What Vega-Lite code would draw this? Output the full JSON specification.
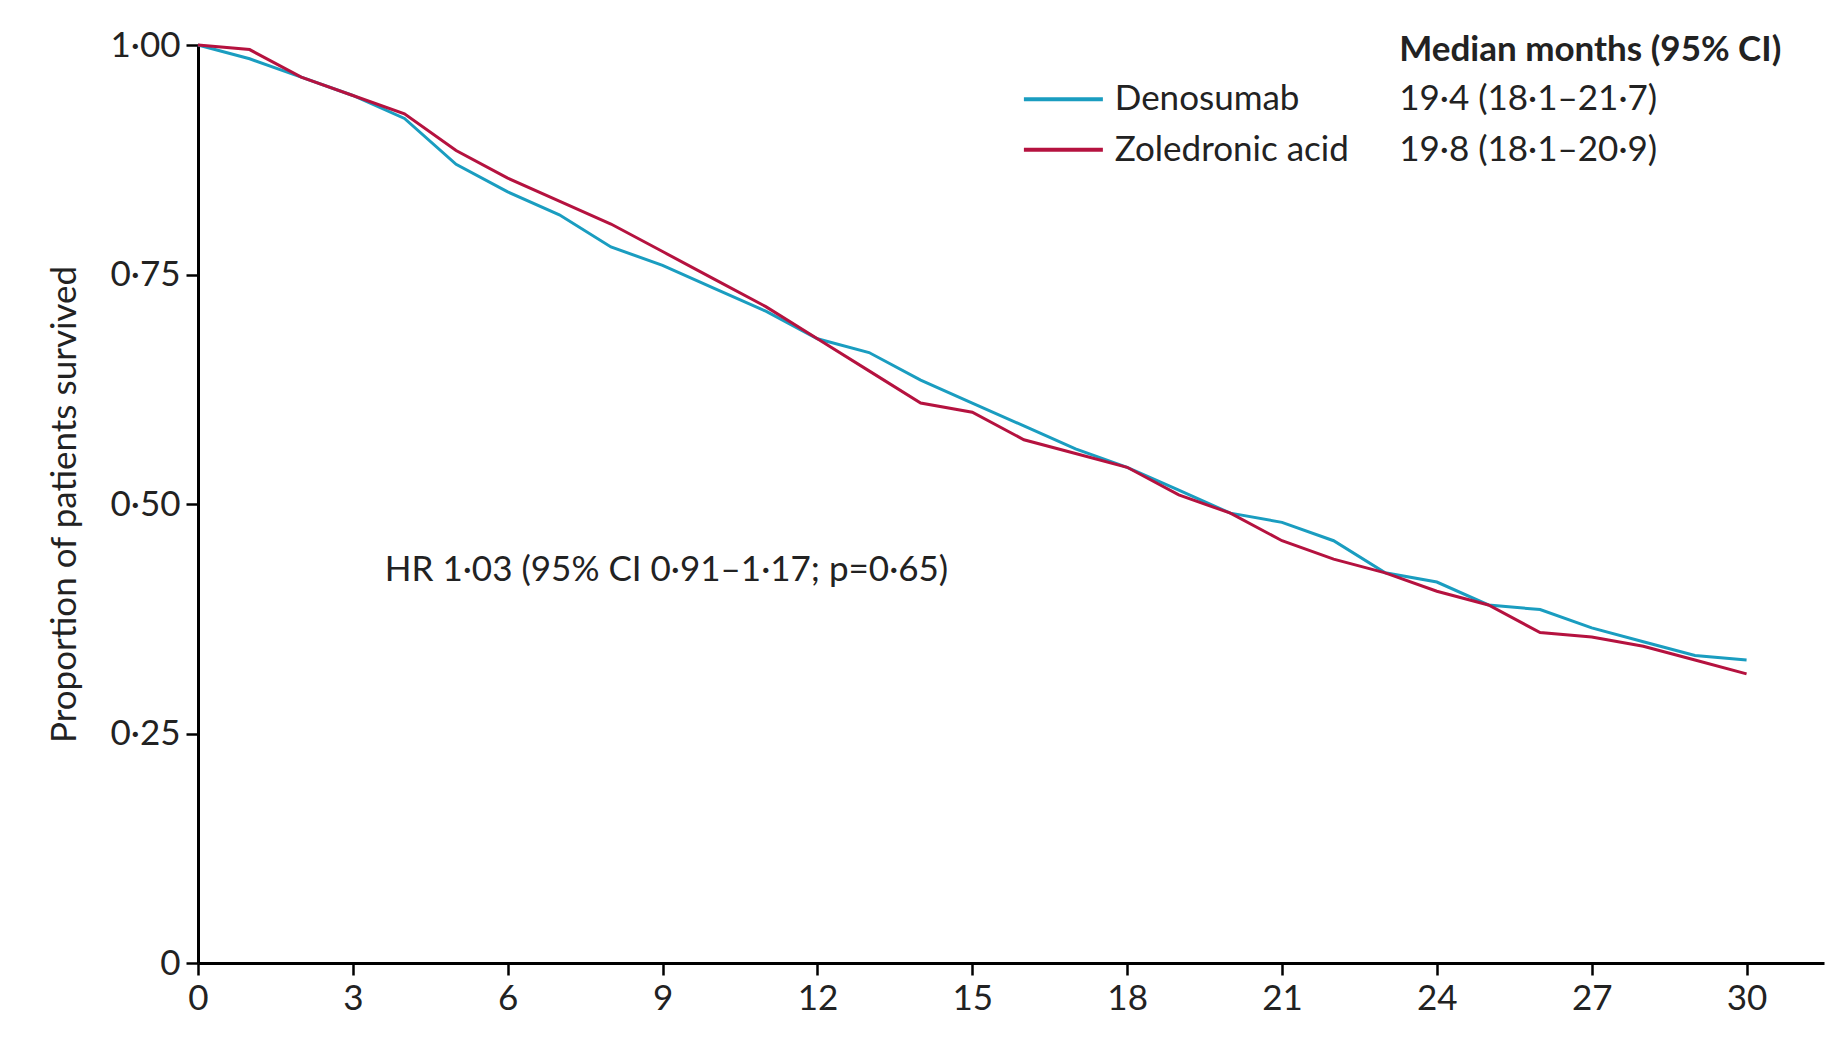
{
"$schema":"https://vega.github.io/schema/vega-lite/v6.json",
"width":1626,"height":918,
"padding":{"left":198,"top":45,"right":21,"bottom":94},
"autosize":{"type":"none"},
"background":"white",
"config":{"view":{"stroke":null},"font":"Lato"},
"datasets":{
"km":[
{"t":0,"s":1.0,"g":"Denosumab"},{"t":1,"s":0.985,"g":"Denosumab"},{"t":2,"s":0.965,"g":"Denosumab"},{"t":3,"s":0.945,"g":"Denosumab"},{"t":4,"s":0.92,"g":"Denosumab"},{"t":5,"s":0.87,"g":"Denosumab"},{"t":6,"s":0.84,"g":"Denosumab"},{"t":7,"s":0.815,"g":"Denosumab"},{"t":8,"s":0.78,"g":"Denosumab"},{"t":9,"s":0.76,"g":"Denosumab"},{"t":10,"s":0.735,"g":"Denosumab"},{"t":11,"s":0.71,"g":"Denosumab"},{"t":12,"s":0.68,"g":"Denosumab"},{"t":13,"s":0.665,"g":"Denosumab"},{"t":14,"s":0.635,"g":"Denosumab"},{"t":15,"s":0.61,"g":"Denosumab"},{"t":16,"s":0.585,"g":"Denosumab"},{"t":17,"s":0.56,"g":"Denosumab"},{"t":18,"s":0.54,"g":"Denosumab"},{"t":19,"s":0.515,"g":"Denosumab"},{"t":20,"s":0.49,"g":"Denosumab"},{"t":21,"s":0.48,"g":"Denosumab"},{"t":22,"s":0.46,"g":"Denosumab"},{"t":23,"s":0.425,"g":"Denosumab"},{"t":24,"s":0.415,"g":"Denosumab"},{"t":25,"s":0.39,"g":"Denosumab"},{"t":26,"s":0.385,"g":"Denosumab"},{"t":27,"s":0.365,"g":"Denosumab"},{"t":28,"s":0.35,"g":"Denosumab"},{"t":29,"s":0.335,"g":"Denosumab"},{"t":30,"s":0.33,"g":"Denosumab"},
{"t":0,"s":1.0,"g":"Zoledronic acid"},{"t":1,"s":0.995,"g":"Zoledronic acid"},{"t":2,"s":0.965,"g":"Zoledronic acid"},{"t":3,"s":0.945,"g":"Zoledronic acid"},{"t":4,"s":0.925,"g":"Zoledronic acid"},{"t":5,"s":0.885,"g":"Zoledronic acid"},{"t":6,"s":0.855,"g":"Zoledronic acid"},{"t":7,"s":0.83,"g":"Zoledronic acid"},{"t":8,"s":0.805,"g":"Zoledronic acid"},{"t":9,"s":0.775,"g":"Zoledronic acid"},{"t":10,"s":0.745,"g":"Zoledronic acid"},{"t":11,"s":0.715,"g":"Zoledronic acid"},{"t":12,"s":0.68,"g":"Zoledronic acid"},{"t":13,"s":0.645,"g":"Zoledronic acid"},{"t":14,"s":0.61,"g":"Zoledronic acid"},{"t":15,"s":0.6,"g":"Zoledronic acid"},{"t":16,"s":0.57,"g":"Zoledronic acid"},{"t":17,"s":0.555,"g":"Zoledronic acid"},{"t":18,"s":0.54,"g":"Zoledronic acid"},{"t":19,"s":0.51,"g":"Zoledronic acid"},{"t":20,"s":0.49,"g":"Zoledronic acid"},{"t":21,"s":0.46,"g":"Zoledronic acid"},{"t":22,"s":0.44,"g":"Zoledronic acid"},{"t":23,"s":0.425,"g":"Zoledronic acid"},{"t":24,"s":0.405,"g":"Zoledronic acid"},{"t":25,"s":0.39,"g":"Zoledronic acid"},{"t":26,"s":0.36,"g":"Zoledronic acid"},{"t":27,"s":0.355,"g":"Zoledronic acid"},{"t":28,"s":0.345,"g":"Zoledronic acid"},{"t":29,"s":0.33,"g":"Zoledronic acid"},{"t":30,"s":0.315,"g":"Zoledronic acid"}
],
"leg":[
{"x1":16.0,"x2":17.53,"y":0.941,"g":"Denosumab","ci":"19·4 (18·1–21·7)"},
{"x1":16.0,"x2":17.53,"y":0.886,"g":"Zoledronic acid","ci":"19·8 (18·1–20·9)"}
],
"notes":[{"x":23.27,"y":0.995,"txt":"Median months (95% CI)","b":"bold"},{"x":3.62,"y":0.428,"txt":"HR 1·03 (95% CI 0·91–1·17; p=0·65)","b":"normal"}]
},
"layer":[
{"data":{"name":"km"},"mark":{"type":"line","strokeWidth":3,"interpolate":"linear"},
"encoding":{
"x":{"field":"t","type":"quantitative","scale":{"domain":[0,31.5],"nice":false},
"axis":{"values":[0,3,6,9,12,15,18,21,24,27,30],"title":null,"labelFlush":false,"domainColor":"black","domainWidth":3,"tickColor":"black","tickWidth":2.5,"tickSize":12,"labelFontSize":35,"labelColor":"#222","grid":false,"labelPadding":6}},
"y":{"field":"s","type":"quantitative","scale":{"domain":[0,1],"nice":false},
"axis":{"values":[0,0.25,0.5,0.75,1],"labelFlush":false,"labelExpr":"datum.value==0?'0':replace(format(datum.value,'.2f'),'.','·')","title":"Proportion of patients survived","titleFontSize":35,"titleFontWeight":"normal","titleColor":"#222","titlePadding":28,"domainColor":"black","domainWidth":3,"tickColor":"black","tickWidth":2.5,"tickSize":12,"labelFontSize":35,"labelColor":"#222","grid":false,"labelPadding":6}},
"color":{"field":"g","type":"nominal","scale":{"domain":["Denosumab","Zoledronic acid"],"range":["#1a9dc0","#b5123f"]},"legend":null}}},
{"data":{"name":"leg"},"mark":{"type":"rule","strokeWidth":4},
"encoding":{"x":{"field":"x1","type":"quantitative"},"x2":{"field":"x2"},"y":{"field":"y","type":"quantitative"},
"color":{"field":"g","type":"nominal","legend":null}}},
{"data":{"name":"leg"},"mark":{"type":"text","align":"left","baseline":"middle","fontSize":35,"color":"#222"},
"encoding":{"x":{"datum":17.76,"type":"quantitative"},"y":{"field":"y","type":"quantitative"},"text":{"field":"g"}}},
{"data":{"name":"leg"},"mark":{"type":"text","align":"left","baseline":"middle","fontSize":35,"color":"#222"},
"encoding":{"x":{"datum":23.27,"type":"quantitative"},"y":{"field":"y","type":"quantitative"},"text":{"field":"ci"}}},
{"data":{"name":"notes"},"transform":[{"filter":"datum.b=='bold'"}],"mark":{"type":"text","align":"left","baseline":"middle","fontSize":35,"fontWeight":"bold","color":"#222"},
"encoding":{"x":{"field":"x","type":"quantitative"},"y":{"field":"y","type":"quantitative"},"text":{"field":"txt"}}},
{"data":{"name":"notes"},"transform":[{"filter":"datum.b=='normal'"}],"mark":{"type":"text","align":"left","baseline":"middle","fontSize":35,"color":"#222"},
"encoding":{"x":{"field":"x","type":"quantitative"},"y":{"field":"y","type":"quantitative"},"text":{"field":"txt"}}}
]
}
